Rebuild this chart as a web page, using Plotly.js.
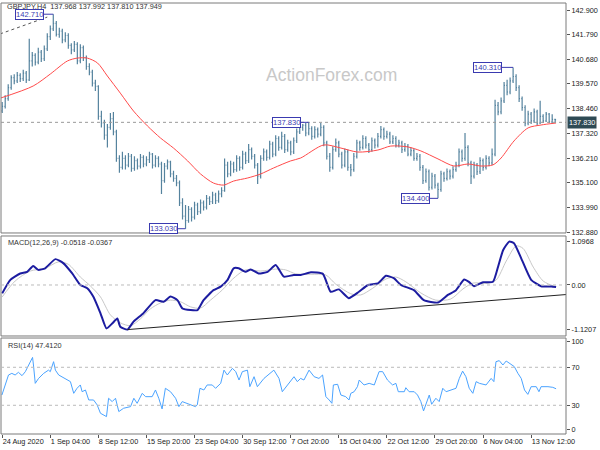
<!DOCTYPE html>
<html><head><meta charset="utf-8">
<script src="https://cdn.plot.ly/plotly-3.0.1.min.js"></script>
<style>html,body{margin:0;padding:0;background:#fff}#chart{width:600px;height:450px}</style>
</head><body><div id="chart"></div>
<script>
const symbolTitle = 'GBPJPY,H4  137.968 137.992 137.810 137.949';
const macdTitle = 'MACD(12,26,9) -0.0518 -0.0367';
const rsiTitle = 'RSI(14) 47.4120';
const watermark = 'ActionForex.com';

const xTickIdx = [0,16,32,48,64,80,96,112,128,144,160,176];
const xTickText = ['24 Aug 2020','1 Sep 04:00','8 Sep 12:00','15 Sep 20:00','23 Sep 04:00','30 Sep 12:00','7 Oct 20:00','15 Oct 04:00','22 Oct 12:00','29 Oct 20:00','6 Nov 04:00','13 Nov 12:00'];

const priceTicks = [142.9,141.79,140.68,139.57,138.46,137.32,136.21,135.1,133.99,132.88];
const priceTickText = ['142.900','141.790','140.680','139.570','138.460','137.320','136.210','135.100','133.990','132.880'];
const macdTicks = [1.0968,0,-1.1207];
const macdTickText = ['1.0968','0.00','-1.1207'];
const rsiTicks = [96.9,70,30,4.7];
const rsiTickText = ['100','70','30','0'];

const open = [138.35,138.55,138.90,139.40,139.85,139.70,139.95,139.80,140.05,139.75,
140.60,140.85,140.55,141.00,140.70,141.15,141.70,142.05,142.30,141.80,
141.95,141.55,141.75,141.30,141.10,141.35,140.60,141.20,140.75,140.35,
140.10,139.60,139.45,138.10,137.80,137.25,137.60,138.00,137.40,136.20,
135.80,136.20,135.90,136.30,135.75,136.10,135.85,136.25,135.95,136.15,
136.40,135.90,136.20,135.95,135.20,135.85,136.05,135.50,135.30,135.10,
134.20,133.60,133.40,133.90,133.55,134.10,133.80,134.20,134.00,134.40,
134.25,134.55,134.30,134.60,134.75,135.90,135.50,135.95,135.70,136.20,
135.80,136.40,136.10,136.60,136.30,135.90,135.40,136.20,136.50,136.25,
136.85,136.40,137.10,136.70,137.20,136.60,136.90,136.50,137.00,137.40,
137.60,137.70,137.35,137.55,137.20,137.50,137.30,137.60,136.90,136.30,
135.80,136.60,136.90,136.40,135.90,136.50,135.80,135.70,136.30,136.90,
136.70,137.10,136.80,136.60,137.00,136.80,137.20,137.50,137.20,137.30,
136.95,137.10,136.80,136.90,136.60,136.75,136.40,136.55,136.20,136.30,
135.80,135.20,135.60,134.90,135.40,135.00,134.80,135.50,135.30,135.60,
135.40,135.70,135.90,136.50,136.20,136.70,136.00,135.40,135.90,135.60,
136.10,135.80,136.20,136.00,136.40,138.60,138.30,138.80,139.50,139.20,
139.70,139.90,139.40,138.90,138.50,137.80,138.20,137.90,138.30,137.80,
138.10,137.90,138.20,137.85,137.968];

const high = [138.75,139.05,139.55,139.95,140.00,140.10,140.05,140.20,140.15,141.60,
141.00,140.95,141.20,141.10,141.30,141.85,142.20,142.71,142.40,142.10,
142.05,141.90,141.85,141.40,141.50,141.45,141.35,141.30,140.85,140.50,
140.20,139.75,139.50,138.35,137.95,137.75,138.25,138.30,137.50,136.35,
136.50,136.35,136.45,136.40,136.30,136.20,136.40,136.35,136.30,136.50,
136.45,136.35,136.30,136.05,136.00,136.15,136.10,135.65,135.45,135.20,
134.40,134.10,134.05,134.00,134.25,134.20,134.35,134.30,134.55,134.50,
134.70,134.65,134.75,134.90,136.20,136.05,136.10,136.05,136.35,136.30,
136.55,136.50,136.85,136.70,136.40,136.00,136.35,136.65,136.60,137.00,
136.95,137.25,137.20,137.40,137.30,137.05,137.00,137.15,137.55,137.75,
137.75,137.80,137.83,137.65,137.65,137.60,137.80,137.70,137.00,136.45,
136.75,137.10,137.00,136.50,136.65,136.60,135.95,136.45,137.05,137.00,
137.25,137.20,136.90,137.15,137.10,137.35,137.67,137.60,137.45,137.40,
137.25,137.20,137.05,137.00,136.90,136.85,136.70,136.65,136.45,136.40,
135.90,135.75,135.70,135.55,135.50,135.10,135.65,135.60,135.75,135.70,
135.85,136.05,136.65,136.60,137.35,136.80,136.10,136.05,136.00,136.25,
136.20,136.35,136.30,136.65,138.85,138.75,138.95,139.65,139.75,139.85,
140.31,140.00,139.50,139.00,138.60,138.35,138.30,138.45,138.40,138.80,
138.20,138.30,138.25,138.20,137.992];

const low = [138.25,138.45,138.80,139.30,139.55,139.60,139.65,139.70,139.60,139.70,
140.35,140.40,140.45,140.55,140.60,141.05,141.55,141.95,141.70,141.65,
141.40,141.45,141.15,140.90,141.00,140.45,140.50,140.60,140.20,139.95,
139.45,139.25,137.95,137.60,137.05,136.70,137.50,137.25,136.05,135.55,
135.70,135.70,135.80,135.60,135.65,135.70,135.75,135.80,135.85,136.00,
135.75,135.80,135.80,134.60,135.10,135.70,135.35,135.15,134.95,134.05,
133.45,133.03,133.30,133.35,133.45,133.65,133.70,133.85,133.90,134.10,
134.15,134.15,134.20,134.45,134.70,135.35,135.40,135.55,135.60,135.65,
135.70,135.95,136.00,136.15,135.75,135.05,135.30,136.10,136.10,136.15,
136.25,136.30,136.55,136.60,136.45,136.50,136.35,136.40,136.90,137.30,
137.45,137.20,137.25,137.05,137.10,137.15,137.20,136.75,136.15,135.60,
135.70,136.50,136.25,135.75,135.80,135.65,135.40,135.60,136.20,136.55,
136.60,136.65,136.45,136.50,136.65,136.70,137.10,137.05,137.10,136.85,
136.85,136.70,136.70,136.45,136.50,136.30,136.30,136.10,136.10,135.65,
135.05,135.10,134.75,134.80,134.85,134.40,134.70,135.15,135.20,135.25,
135.30,135.60,135.80,136.05,136.10,135.85,135.05,135.30,135.45,135.50,
135.65,135.70,135.85,135.90,136.30,138.15,138.20,138.70,139.05,139.10,
139.60,139.25,138.75,138.35,137.65,137.70,137.75,137.80,137.70,137.75,
137.80,137.85,137.80,137.80,137.810];

const close = [138.55,138.90,139.40,139.85,139.70,139.95,139.80,140.05,139.75,140.60,
140.85,140.55,141.00,140.70,141.15,141.70,142.05,142.30,141.80,141.95,
141.55,141.75,141.30,141.10,141.35,140.60,141.20,140.75,140.35,140.10,
139.60,139.45,138.10,137.80,137.25,137.60,138.00,137.40,136.20,135.80,
136.20,135.90,136.30,135.75,136.10,135.85,136.25,135.95,136.15,136.40,
135.90,136.20,135.95,135.20,135.85,136.05,135.50,135.30,135.10,134.20,
133.60,133.40,133.90,133.55,134.10,133.80,134.20,134.00,134.40,134.25,
134.55,134.30,134.60,134.75,135.90,135.50,135.95,135.70,136.20,135.80,
136.40,136.10,136.60,136.30,135.90,135.40,136.20,136.50,136.25,136.85,
136.40,137.10,136.70,137.20,136.60,136.90,136.50,137.00,137.40,137.60,
137.70,137.35,137.55,137.20,137.50,137.30,137.60,136.90,136.30,135.80,
136.60,136.90,136.40,135.90,136.50,135.80,135.70,136.30,136.90,136.70,
137.10,136.80,136.60,137.00,136.80,137.20,137.50,137.20,137.30,136.95,
137.10,136.80,136.90,136.60,136.75,136.40,136.55,136.20,136.30,135.80,
135.20,135.60,134.90,135.40,135.00,134.80,135.50,135.30,135.60,135.40,
135.70,135.90,136.50,136.20,136.70,136.00,135.40,135.90,135.60,136.10,
135.80,136.20,136.00,136.40,138.60,138.30,138.80,139.50,139.20,139.70,
139.90,139.40,138.90,138.50,137.80,138.20,137.90,138.30,137.80,138.10,
137.90,138.20,137.85,137.968,137.949];

const maIdx = [-0.7,10.3,16,21.7,25,28.3,31.7,35,39.3,43.7,48.3,52.7,57,61.7,66,70.3,73.7,77,81.7,86,90.3,96,99.3,107,112.7,118.3,125,129.3,135,139.3,145,150.3,155,159.3,163.3,166,170.3,175,179.3,184.3];
const maVal = [138.92,139.47,140.01,140.60,140.73,140.73,140.51,139.92,139.15,138.34,137.67,137.12,136.67,136.09,135.50,135.09,135.00,135.18,135.32,135.50,135.77,136.09,136.22,136.81,136.67,136.49,136.58,136.76,136.72,136.54,136.18,135.86,135.95,135.86,135.91,136.22,136.99,137.58,137.71,137.80];

const levelLine = 137.83;
const trendTopIdx = [-0.7, 15];
const trendTopVal = [141.82, 142.58];

const labelIdx = [17, 61, 102, 145, 170];
const labelVal = [142.71, 133.03, 137.83, 134.40, 140.31];
const labelText = ['142.710','133.030','137.830','134.400','140.310'];

const macdIdx = [0,2.7,6,8.3,10.3,12,14.3,17.7,20.3,23.3,26,28.3,30.3,32.7,34.7,36.7,38.3,39.3,41.7,43.7,47,51,53.7,56,58.3,60,62.7,65,67,70.3,72.7,75,77,78.7,81,82.7,85.3,88.3,91,93.7,97,99.3,102.7,106.7,109.3,112,115.3,118.7,121.7,125,127.7,130.3,132.7,137,140.3,145,148.3,151,153.7,155.3,157,160,163.3,165,166.7,168.7,170.3,172.7,176,179.3,182.7,184.3];
const macdVal = [-0.21,0.13,0.29,0.33,0.48,0.38,0.42,0.65,0.55,0.29,0.0,-0.08,-0.29,-0.71,-1.09,-0.96,-0.84,-1.05,-1.12,-0.92,-0.71,-0.38,-0.42,-0.29,-0.38,-0.59,-0.63,-0.63,-0.38,-0.13,-0.04,0.13,0.42,0.42,0.33,0.39,0.29,0.33,0.50,0.21,0.25,0.25,0.32,0.28,-0.17,-0.11,-0.33,-0.17,0.0,0.04,0.23,0.17,0.0,-0.13,-0.38,-0.44,-0.25,-0.13,0.14,0.08,-0.03,0.07,0.08,0.46,0.88,1.09,1.05,0.67,0.13,-0.03,-0.04,-0.0518];
const sigIdx = [0,4.3,9.3,14.3,18.7,22,26,29.3,32.7,36,39.3,42.7,46,49.3,52.7,56,59.3,62.7,66,69.3,73.3,76.7,81,86,91,94.3,97.7,102.7,107.7,111,116,119.3,123.3,127.7,131,134.3,139.3,144.3,149.3,153.3,156.7,161,164.3,167.7,171,173.3,176.7,180,183.3,184.3];
const sigVal = [-0.30,0.10,0.35,0.42,0.58,0.52,0.20,-0.02,-0.30,-0.75,-0.95,-1.02,-0.85,-0.60,-0.45,-0.38,-0.42,-0.55,-0.58,-0.38,-0.12,0.15,0.38,0.35,0.40,0.38,0.28,0.27,0.25,0.02,-0.22,-0.25,-0.08,0.15,0.20,0.08,-0.20,-0.38,-0.35,-0.10,0.05,0.04,0.12,0.60,0.98,0.92,0.45,0.10,-0.02,-0.0367];
const macdTrendIdx = [41.7, 187.6];
const macdTrendVal = [-1.12, -0.24];

const rsiIdx = [-0.1,1.0,2.1,3.2,4.3,5.4,6.6,7.7,8.8,10.1,10.4,11.0,12.1,13.8,15.4,16.0,17.1,17.7,18.8,19.9,21.6,22.7,23.8,24.9,26.0,26.6,27.7,28.8,30.4,31.6,32.7,34.7,35.4,36.6,37.7,38.8,40.4,42.7,43.8,44.9,46.6,47.7,49.9,51.0,52.1,53.2,54.3,56.0,57.7,58.8,59.9,61.6,63.2,64.3,64.9,65.8,67.1,68.2,69.9,71.0,72.7,73.8,74.9,76.6,77.7,78.8,79.9,81.6,82.4,83.8,84.9,87.1,90.4,92.1,93.2,94.9,97.1,98.2,99.3,100.4,102.1,103.8,105.4,106.6,107.7,108.8,109.7,110.2,111.6,112.7,114.3,115.4,116.0,117.1,118.2,118.8,120.4,122.1,123.8,125.4,126.6,128.2,129.9,131.0,131.8,133.8,134.3,135.4,137.1,138.2,139.3,140.2,141.0,142.1,142.9,144.3,145.4,146.6,147.7,149.3,151.0,152.1,153.2,154.3,155.4,156.6,157.7,158.8,161.0,162.7,163.6,164.3,165.4,166.6,167.7,169.3,170.4,171.6,172.7,173.8,174.9,176.0,177.7,178.6,179.3,181.6,183.2,184.3];
const rsiVal = [40.8,51.4,61.9,63.6,61.9,64.7,61.2,65.4,72.4,80.4,72.4,53.1,58.3,63.6,67.0,65.4,75.9,67.0,61.9,60.1,56.6,54.9,42.6,47.9,51.4,44.3,46.1,35.6,35.6,30.4,21.6,18.1,37.4,33.9,37.4,23.4,26.9,28.6,37.4,32.1,42.6,39.1,39.1,46.1,37.4,26.2,47.9,44.3,37.4,28.6,33.9,32.1,30.4,28.6,30.4,47.9,46.1,51.4,51.4,47.9,53.1,67.0,61.9,68.9,65.4,56.6,65.4,67.0,49.6,60.1,49.6,58.3,67.0,58.3,44.3,51.4,60.1,54.9,58.3,56.6,67.0,60.1,58.3,61.9,39.1,35.6,32.1,51.4,52.1,40.8,39.1,35.6,42.6,44.3,49.6,56.6,51.4,53.1,51.4,65.4,65.4,56.6,51.4,53.1,44.3,44.3,48.5,44.3,44.3,40.8,33.9,24.1,32.1,40.8,31.1,37.4,33.9,47.9,44.3,46.1,47.9,58.3,66.0,60.1,47.9,42.6,54.9,53.1,51.4,58.3,54.9,75.9,77.0,72.4,76.6,73.1,70.7,63.6,58.3,46.1,41.5,49.6,49.6,44.3,49.6,49.6,48.9,47.41];
const rsiLevels = [70, 30];

const barIdx = close.map((_, i) => i);
const FONT = 'Liberation Sans, Arial, sans-serif';
const barColor = '#55839e';

const traces = [
  {type:'ohlc', x:barIdx, open:open, high:high, low:low, close:close, xaxis:'x', yaxis:'y',
   increasing:{line:{color:barColor, width:1.2}}, decreasing:{line:{color:barColor, width:1.2}},
   tickwidth:0.3, hoverinfo:'skip', showlegend:false},
  {type:'scatter', mode:'lines', x:maIdx, y:maVal, xaxis:'x', yaxis:'y',
   line:{color:'#ff4a4a', width:1, shape:'spline', smoothing:0.8}, hoverinfo:'skip'},
  {type:'scatter', mode:'lines', x:trendTopIdx, y:trendTopVal, xaxis:'x', yaxis:'y',
   line:{color:'#555', width:1, dash:'dot'}, hoverinfo:'skip'},
  {type:'scatter', mode:'lines', x:sigIdx, y:sigVal, xaxis:'x', yaxis:'y2',
   line:{color:'#c8c8c8', width:1, shape:'spline', smoothing:0.8}, hoverinfo:'skip'},
  {type:'scatter', mode:'lines', x:macdIdx, y:macdVal, xaxis:'x', yaxis:'y2',
   line:{color:'#1c1ca0', width:2, shape:'spline', smoothing:0.5}, hoverinfo:'skip'},
  {type:'scatter', mode:'lines', x:macdTrendIdx, y:macdTrendVal, xaxis:'x', yaxis:'y2',
   line:{color:'#222', width:1}, hoverinfo:'skip'},
  {type:'scatter', mode:'lines', x:rsiIdx, y:rsiVal, xaxis:'x', yaxis:'y3',
   line:{color:'#4aa3ff', width:1}, hoverinfo:'skip'}
];

const yCommon = {side:'right', anchor:'x', ticks:'outside', ticklen:3, tickcolor:'#555',
  showgrid:false, zeroline:false, showline:false, fixedrange:true,
  tickfont:{family:FONT, size:7.3, color:'#222'}};

const shapes = [
  {type:'rect', xref:'paper', yref:'y domain', x0:0, x1:1, y0:0, y1:1, line:{color:'#7a7a7a', width:1}},
  {type:'rect', xref:'paper', yref:'y2 domain', x0:0, x1:1, y0:0, y1:1, line:{color:'#7a7a7a', width:1}},
  {type:'rect', xref:'paper', yref:'y3 domain', x0:0, x1:1, y0:0, y1:1, line:{color:'#7a7a7a', width:1}},
  {type:'line', xref:'paper', yref:'y', x0:0, x1:1, y0:levelLine, y1:levelLine, line:{color:'#999', width:1, dash:'dot'}},
  {type:'line', xref:'paper', yref:'y2', x0:0, x1:1, y0:0, y1:0, line:{color:'#bbb', width:1, dash:'dot'}}
].concat(rsiLevels.map(v => ({type:'line', xref:'paper', yref:'y3', x0:0, x1:1, y0:v, y1:v, line:{color:'#bbb', width:1, dash:'dot'}})));

const axOff = [-24, -22, -22, -22.5, -25.5];
const annotations = [
  {xref:'paper', yref:'paper', x:0.585, y:0.861, text:watermark, showarrow:false,
   font:{family:FONT, size:17.5, color:'#c8c8c8'}},
  {xref:'paper', yref:'paper', x:0.007, y:0.991, xanchor:'left', yanchor:'middle', text:symbolTitle, showarrow:false,
   font:{family:FONT, size:7.3, color:'#333'}},
  {xref:'paper', yref:'y2 domain', x:0.009, y:0.93, xanchor:'left', yanchor:'middle', text:macdTitle, showarrow:false,
   font:{family:FONT, size:7.3, color:'#333'}},
  {xref:'paper', yref:'y3 domain', x:0.009, y:0.92, xanchor:'left', yanchor:'middle', text:rsiTitle, showarrow:false,
   font:{family:FONT, size:7.3, color:'#333'}},
  {xref:'paper', yref:'y', x:1, y:levelLine, xanchor:'left', yanchor:'middle', xshift:1, text:'137.830', showarrow:false,
   bgcolor:'#2e4a54', borderpad:1, font:{family:FONT, size:7.3, color:'#ffffff'}}
].concat(labelIdx.map((xi, k) => ({
  xref:'x', yref:'y', x:xi, y:labelVal[k], text:labelText[k], showarrow:true, arrowhead:0,
  arrowwidth:1, arrowcolor:'#3a3ab0', ax:axOff[k], ay:0, standoff:0,
  bgcolor:'#ffffff', bordercolor:'#3a3ab0', borderwidth:1, borderpad:0,
  font:{family:FONT, size:7.6, color:'#3a3ab0'}
})));

const layout = {
  width:600, height:450, margin:{l:1, r:34, t:3, b:16},
  paper_bgcolor:'#ffffff', plot_bgcolor:'#ffffff', showlegend:false,
  font:{family:FONT, size:7.3, color:'#222'},
  xaxis:{domain:[0,1], range:[-0.4,187.6], anchor:'y3', tickvals:xTickIdx, ticktext:xTickText,
    ticks:'outside', ticklen:3, tickcolor:'#555', ticklabelposition:'outside right', tickangle:0,
    showgrid:false, zeroline:false, showline:false, fixedrange:true, rangeslider:{visible:false},
    tickfont:{family:FONT, size:7.3, color:'#222'}},
  yaxis:Object.assign({}, yCommon, {domain:[0.4664,1], range:[132.837,143.216], tickvals:priceTicks, ticktext:priceTickText}),
  yaxis2:Object.assign({}, yCommon, {domain:[0.2274,0.4594], range:[-1.281,1.231], tickvals:macdTicks, ticktext:macdTickText}),
  yaxis3:Object.assign({}, yCommon, {domain:[0,0.2227], range:[-0.2,100.8], tickvals:rsiTicks, ticktext:rsiTickText}),
  shapes:shapes, annotations:annotations
};

Plotly.newPlot('chart', traces, layout, {staticPlot:true, displayModeBar:false});
</script></body></html>
